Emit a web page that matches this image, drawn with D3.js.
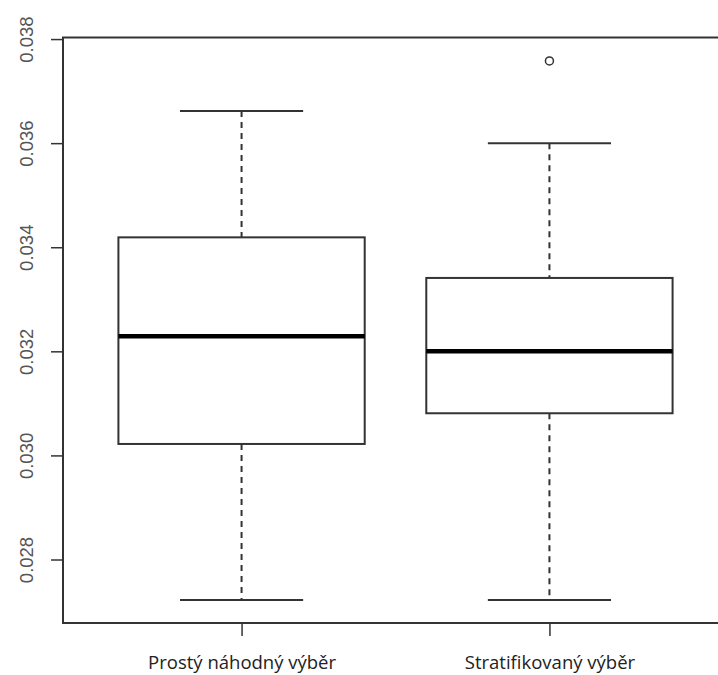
<!DOCTYPE html>
<html>
<head>
<meta charset="utf-8">
<script src="https://cdn.jsdelivr.net/npm/d3@7"></script>
<style>
  body { margin: 0; background: #fff; }
</style>
</head>
<body>
<div id="chart"></div>
<script>
// boxplot summaries
let groups = ['Prostý náhodný výběr', 'Stratifikovaný výběr']
let lowWhisker = [0.02722, 0.02722]
let q1 = [0.03022, 0.03081]
let median = [0.03229, 0.03200]
let q3 = [0.03419, 0.03341]
let highWhisker = [0.03662, 0.03600]
let outliers = [[], [0.03758]]
let yTicks = [0.028, 0.030, 0.032, 0.034, 0.036, 0.038]

let width = 718, height = 675

let svg = d3.select('#chart').append('svg')
    .attr('width', width)
    .attr('height', height)

// R style plot region: x from 0.42 to 2.58
let x = d3.scaleLinear()
    .domain([0.42, 2.58])
    .range([63, 728])

let y = d3.scaleLinear()
    .domain([0.02678, 0.03803])
    .range([623, 37.5])

let ink = '#333'

// frame
svg.append('rect')
    .attr('x', x(0.42))
    .attr('y', y(0.03803))
    .attr('width', x(2.58) - x(0.42))
    .attr('height', y(0.02678) - y(0.03803))
    .attr('fill', 'none')
    .attr('stroke', ink)
    .attr('stroke-width', 2)

// y axis
let yAxis = d3.axisLeft(y)
    .tickValues(yTicks)
    .tickSize(12)
    .tickFormat(d3.format('.3f'))

let gy = svg.append('g')
    .attr('transform', 'translate(' + x(0.42) + ',0)')
    .call(yAxis)

gy.select('.domain').remove()
gy.selectAll('.tick line').attr('stroke', ink).attr('stroke-width', 1.5)
gy.selectAll('.tick text')
    .attr('fill', '#555')
    .attr('font-family', 'Liberation Sans, Arial, sans-serif')
    .attr('font-size', 18.5)
    .attr('text-anchor', 'middle')
    .attr('transform', 'rotate(-90)')
    .attr('x', 0)
    .attr('dy', 0)
    .attr('y', -30)

// x axis
let xAxis = d3.axisBottom(x)
    .tickValues([1, 2])
    .tickSize(13)
    .tickFormat(function(d){ return groups[d - 1] })

let gx = svg.append('g')
    .attr('transform', 'translate(0,' + y(0.02678) + ')')
    .call(xAxis)

gx.select('.domain').remove()
gx.selectAll('.tick line').attr('stroke', ink).attr('stroke-width', 1.5)
gx.selectAll('.tick text')
    .attr('fill', '#222')
    .attr('font-family', 'Open Sans, sans-serif')
    .attr('font-size', 18.5)
    .attr('y', 46)
    .attr('dy', 0)

let boxHalf = 0.4
let capHalf = 0.2

let box = svg.append('g')
    .selectAll('.box')
    .data(groups)
    .enter()
    .append('g')

// whiskers
box.append('line')
    .attr('x1', function(d, i){ return x(i + 1) })
    .attr('x2', function(d, i){ return x(i + 1) })
    .attr('y1', function(d, i){ return y(highWhisker[i]) })
    .attr('y2', function(d, i){ return y(q3[i]) })
    .attr('stroke', ink).attr('stroke-width', 2).attr('stroke-dasharray', '6,5')

box.append('line')
    .attr('x1', function(d, i){ return x(i + 1) })
    .attr('x2', function(d, i){ return x(i + 1) })
    .attr('y1', function(d, i){ return y(q1[i]) })
    .attr('y2', function(d, i){ return y(lowWhisker[i]) })
    .attr('stroke', ink).attr('stroke-width', 2).attr('stroke-dasharray', '6,5')

// caps
box.append('line')
    .attr('x1', function(d, i){ return x(i + 1 - capHalf) })
    .attr('x2', function(d, i){ return x(i + 1 + capHalf) })
    .attr('y1', function(d, i){ return y(highWhisker[i]) })
    .attr('y2', function(d, i){ return y(highWhisker[i]) })
    .attr('stroke', ink).attr('stroke-width', 2)

box.append('line')
    .attr('x1', function(d, i){ return x(i + 1 - capHalf) })
    .attr('x2', function(d, i){ return x(i + 1 + capHalf) })
    .attr('y1', function(d, i){ return y(lowWhisker[i]) })
    .attr('y2', function(d, i){ return y(lowWhisker[i]) })
    .attr('stroke', ink).attr('stroke-width', 2)

// boxes
box.append('rect')
    .attr('x', function(d, i){ return x(i + 1 - boxHalf) })
    .attr('width', function(d, i){ return x(i + 1 + boxHalf) - x(i + 1 - boxHalf) })
    .attr('y', function(d, i){ return y(q3[i]) })
    .attr('height', function(d, i){ return y(q1[i]) - y(q3[i]) })
    .attr('fill', 'white')
    .attr('stroke', ink)
    .attr('stroke-width', 2)

// medians
box.append('line')
    .attr('x1', function(d, i){ return x(i + 1 - boxHalf) })
    .attr('x2', function(d, i){ return x(i + 1 + boxHalf) })
    .attr('y1', function(d, i){ return y(median[i]) })
    .attr('y2', function(d, i){ return y(median[i]) })
    .attr('stroke', '#000').attr('stroke-width', 4.5)

// outliers
box.selectAll('.outlier')
    .data(function(d, i){ return outliers[i].map(function(v){ return {g: i, v: v} }) })
    .enter()
    .append('circle')
    .attr('cx', function(d){ return x(d.g + 1) })
    .attr('cy', function(d){ return y(d.v) })
    .attr('r', 4)
    .attr('fill', 'none')
    .attr('stroke', ink)
    .attr('stroke-width', 1.5)
</script>
</body>
</html>
